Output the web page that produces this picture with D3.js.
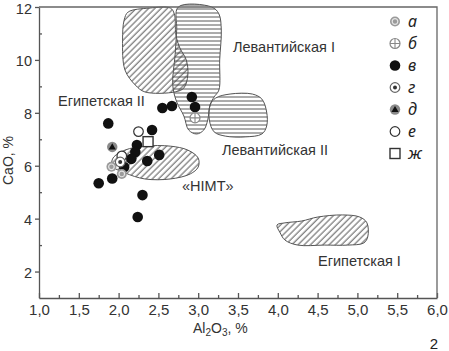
<!DOCTYPE html>
<html>
<head>
<meta charset="utf-8">
<script src="https://cdn.jsdelivr.net/npm/d3@7"></script>
<style>
  body { margin: 0; background: #fff; }
  svg { display: block; font-family: "Liberation Sans", Arial, sans-serif; }
</style>
</head>
<body>
<div id="chart"></div>
<script>
const width = 449;
const height = 351;
const marginTop = 7;
const marginRight = 12;
const marginBottom = 53;
const marginLeft = 39;

// axis ticks
const xMajor = [1.0, 1.5, 2.0, 2.5, 3.0, 3.5, 4.0, 4.5, 5.0, 5.5, 6.0];
const xMinor = [1.25, 1.75, 2.25, 2.75, 3.25, 3.75, 4.25, 4.75, 5.25, 5.75];
const yMajor = [2, 4, 6, 8, 10, 12];
const yMinor = [3, 5, 7, 9, 11];

// outlines of the fields, [Al2O3, CaO]
const egyptII = [[2.12, 11.81], [2.39, 11.96], [2.65, 11.96], [2.70, 11.74], [2.72, 10.94], [2.77, 10.45],
  [2.85, 10.0], [2.87, 9.43], [2.82, 8.94], [2.71, 8.79], [2.33, 8.79], [2.21, 9.05], [2.08, 9.62],
  [2.05, 10.75], [2.07, 11.51]];
const levantI = [[2.75, 12.0], [3.17, 12.0], [3.26, 11.74], [3.29, 11.13], [3.27, 10.0], [3.26, 8.86],
  [3.20, 8.60], [3.15, 8.30], [3.12, 7.73], [3.07, 7.35], [2.98, 7.20], [2.88, 7.35], [2.82, 7.88],
  [2.73, 8.41], [2.68, 9.05], [2.71, 10.19], [2.73, 11.13]];
const levantII = [[3.15, 8.30], [3.22, 8.56], [3.40, 8.71], [3.68, 8.71], [3.80, 8.52], [3.86, 8.03],
  [3.86, 7.50], [3.80, 7.20], [3.59, 7.09], [3.34, 7.12], [3.20, 7.28], [3.14, 7.73]];
const himt = [[1.93, 6.29], [2.08, 6.59], [2.33, 6.74], [2.65, 6.74], [2.87, 6.59], [3.0, 6.29],
  [3.0, 5.95], [2.90, 5.69], [2.65, 5.50], [2.33, 5.50], [2.08, 5.73], [1.92, 5.99]];
const egyptI = [[3.99, 3.76], [4.09, 3.84], [4.30, 3.91], [4.50, 4.06], [4.81, 4.14], [5.03, 4.06],
  [5.12, 3.84], [5.13, 3.31], [5.08, 3.08], [4.88, 3.0], [4.59, 3.0], [4.25, 3.0], [4.09, 3.19], [4.03, 3.46]];

// samples by group
const ptsA = [[1.91, 5.96], [2.04, 5.69]];
const ptsB = [[2.96, 7.81]];
const ptsV = [[2.55, 8.18], [2.67, 8.26], [2.92, 8.60], [2.96, 8.22], [2.42, 7.35], [1.87, 7.60],
  [2.23, 6.78], [2.21, 6.52], [2.51, 6.41], [2.16, 6.26], [2.36, 6.18], [2.07, 5.95], [1.92, 5.52],
  [1.75, 5.34], [2.30, 4.89], [2.24, 4.06]];
const ptsG = [[2.02, 6.14]];
const ptsD = [[1.92, 6.71]];
const ptsE = [[2.25, 7.29], [2.04, 6.37]];
const ptsZh = [[2.37, 6.91]];

const legendKeys = ["a", "b", "v", "g", "d", "e", "zh"];
const legendLabels = ["а", "б", "в", "г", "д", "е", "ж"];

const svg = d3.select("#chart")
  .append("svg")
  .attr("width", width)
  .attr("height", height)
  .attr("viewBox", [0, 0, width, height]);

const x = d3.scaleLinear().domain([1, 6]).range([marginLeft, width - marginRight]);
const y = d3.scaleLinear().domain([1, 12]).range([height - marginBottom, marginTop]);

// hatch patterns
const defs = svg.append("defs");
defs.append("pattern")
  .attr("id", "diag")
  .attr("patternUnits", "userSpaceOnUse")
  .attr("width", 4.4).attr("height", 10)
  .attr("patternTransform", "rotate(45)")
  .append("line")
  .attr("x1", 1).attr("x2", 1).attr("y1", 0).attr("y2", 10)
  .attr("stroke", "#444").attr("stroke-width", 0.9);
defs.append("pattern")
  .attr("id", "horiz")
  .attr("patternUnits", "userSpaceOnUse")
  .attr("width", 10).attr("height", 4)
  .append("line")
  .attr("x1", 0).attr("x2", 10).attr("y1", 1).attr("y2", 1)
  .attr("stroke", "#444").attr("stroke-width", 0.9);

const blob = d3.line()
  .x(d => x(d[0]))
  .y(d => y(d[1]))
  .curve(d3.curveCatmullRomClosed.alpha(0.5));

const fields = [
  { pts: egyptII, fill: "url(#diag)" },
  { pts: levantI, fill: "url(#horiz)" },
  { pts: levantII, fill: "url(#horiz)" },
  { pts: himt, fill: "url(#diag)" },
  { pts: egyptI, fill: "url(#diag)" }
];

svg.append("g")
  .selectAll("path")
  .data(fields)
  .join("path")
  .attr("d", d => blob(d.pts))
  .attr("fill", d => d.fill)
  .attr("stroke", "#555")
  .attr("stroke-width", 1);

// field names
const names = [
  { t: "Египетская II", x: 58, y: 106 },
  { t: "Левантийская I", x: 233, y: 52 },
  { t: "Левантийская II", x: 222, y: 155 },
  { t: "«HIMT»", x: 182, y: 191 },
  { t: "Египетская I", x: 318, y: 266 }
];
svg.append("g")
  .attr("font-size", 14.5)
  .attr("fill", "#333")
  .selectAll("text")
  .data(names)
  .join("text")
  .attr("x", d => d.x)
  .attr("y", d => d.y)
  .text(d => d.t);

// axes
const fmt = d => d3.format(".1f")(d).replace(".", ",");

svg.append("g")
  .attr("transform", `translate(0,${y(1)})`)
  .call(d3.axisBottom(x).tickValues(xMinor).tickSize(-3).tickFormat(""))
  .call(g => g.select(".domain").remove());
svg.append("g")
  .attr("transform", `translate(0,${y(1)})`)
  .call(d3.axisBottom(x).tickValues(xMajor).tickSize(-5).tickSizeOuter(0).tickPadding(6).tickFormat(fmt))
  .attr("font-size", 15)
  .attr("font-family", null);

svg.append("g")
  .attr("transform", `translate(${x(1)},0)`)
  .call(d3.axisLeft(y).tickValues(yMinor).tickSize(-3).tickFormat(""))
  .call(g => g.select(".domain").remove());
svg.append("g")
  .attr("transform", `translate(${x(1)},0)`)
  .call(d3.axisLeft(y).tickValues(yMajor).tickSize(4).tickSizeOuter(0).tickPadding(3))
  .attr("font-size", 14.5)
  .attr("font-family", null)
  .call(g => g.selectAll(".tick text").attr("dy", 6));

svg.selectAll(".tick line, .domain").attr("stroke", "#555").attr("stroke-width", 1.3);
svg.selectAll(".tick text").attr("fill", "#333");

// frame top and right
svg.append("path")
  .attr("d", `M${x(1)},${y(12)}H${x(6)}V${y(1)}`)
  .attr("fill", "none")
  .attr("stroke", "#666")
  .attr("stroke-width", 1.3);

// axis titles
svg.append("text")
  .attr("transform", `translate(13,${(y(1) + y(12)) / 2 + 8}) rotate(-90)`)
  .attr("text-anchor", "middle")
  .attr("font-size", 14)
  .attr("fill", "#333")
  .text("CaO, %");

const xt = svg.append("text")
  .attr("x", 193)
  .attr("y", 333)
  .attr("font-size", 14)
  .attr("fill", "#333");
xt.append("tspan").text("Al");
xt.append("tspan").attr("font-size", 10).attr("dy", 3).text("2");
xt.append("tspan").attr("dy", -3).text("O");
xt.append("tspan").attr("font-size", 10).attr("dy", 3).text("3");
xt.append("tspan").attr("dy", -3).text(", %");

svg.append("text")
  .attr("x", 434)
  .attr("y", 349)
  .attr("text-anchor", "middle")
  .attr("font-size", 15)
  .attr("fill", "#222")
  .text("2");

// symbols
const drawSymbol = (g, key) => {
  if (key === "a") {
    g.append("circle").attr("r", 5).attr("fill", "#9a9a9a");
    g.append("circle").attr("r", 2.8).attr("fill", "none").attr("stroke", "#e4e4e4").attr("stroke-width", 1.2);
  } else if (key === "b") {
    g.append("circle").attr("r", 5).attr("fill", "#fff").attr("stroke", "#888").attr("stroke-width", 1.2);
    g.append("path").attr("d", "M-5,0H5M0,-5V5").attr("stroke", "#888").attr("stroke-width", 1.1);
  } else if (key === "v") {
    g.append("circle").attr("r", 5.3).attr("fill", "#111");
  } else if (key === "g") {
    g.append("circle").attr("r", 4.8).attr("fill", "#fff").attr("stroke", "#666").attr("stroke-width", 1.2);
    g.append("circle").attr("r", 2).attr("fill", "#333");
  } else if (key === "d") {
    g.append("circle").attr("r", 5.2).attr("fill", "#8a8a8a");
    g.append("path").attr("d", "M0,-3.6L3.6,2.6H-3.6Z").attr("fill", "#111");
  } else if (key === "e") {
    g.append("circle").attr("r", 4.8).attr("fill", "#fff").attr("stroke", "#333").attr("stroke-width", 1.2);
  } else if (key === "zh") {
    g.append("rect").attr("x", -5).attr("y", -5).attr("width", 10).attr("height", 10)
      .attr("fill", "#fff").attr("stroke", "#333").attr("stroke-width", 1.4);
  }
};

const groups = [
  { key: "v", pts: ptsV },
  { key: "e", pts: ptsE },
  { key: "zh", pts: ptsZh },
  { key: "d", pts: ptsD },
  { key: "a", pts: ptsA },
  { key: "g", pts: ptsG },
  { key: "b", pts: ptsB }
];

const pointsG = svg.append("g");
groups.forEach(grp => {
  grp.pts.forEach(p => {
    const g = pointsG.append("g").attr("transform", `translate(${x(p[0])},${y(p[1])})`);
    drawSymbol(g, grp.key);
  });
});

// legend
const legend = svg.append("g");
legendKeys.forEach((k, i) => {
  const row = legend.append("g").attr("transform", `translate(395,${21.5 + i * 22})`);
  drawSymbol(row, k);
  row.append("text")
    .attr("x", 13)
    .attr("y", 5)
    .attr("font-family", "'Noto Sans', sans-serif")
    .attr("font-style", "italic")
    .attr("font-size", 16)
    .attr("fill", "#222")
    .text(legendLabels[i]);
});
</script>
</body>
</html>
